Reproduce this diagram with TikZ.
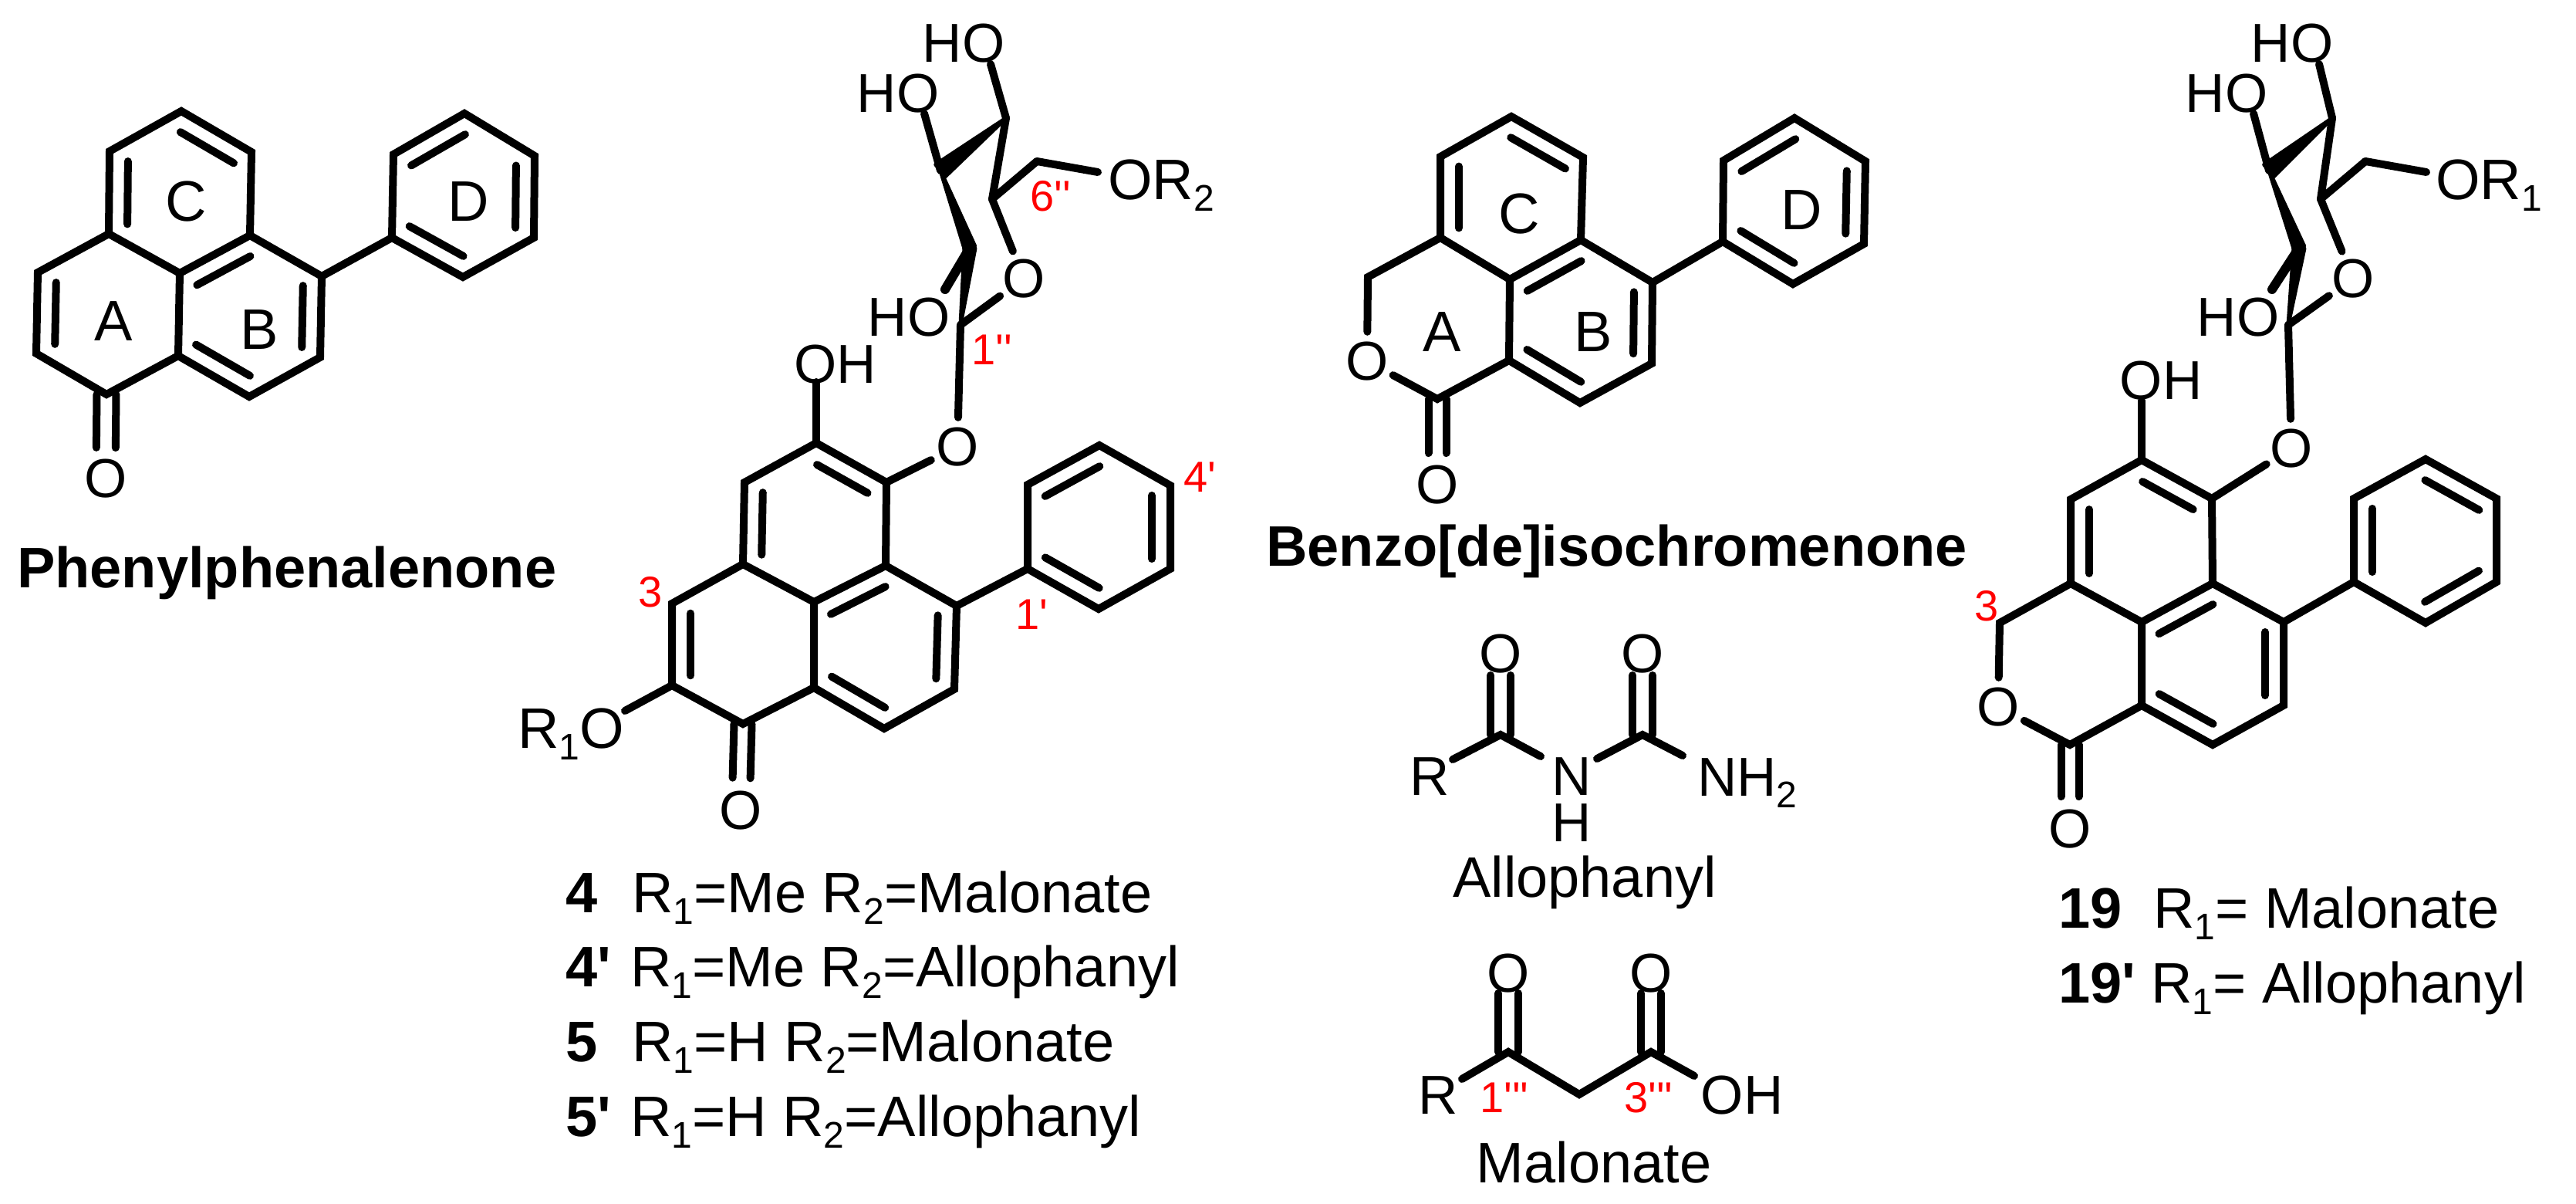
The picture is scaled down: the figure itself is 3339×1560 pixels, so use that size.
\documentclass[tikz,border=0pt]{standalone}
\usepackage{fontspec}
\usetikzlibrary{calc}
\newfontfamily\lib{Liberation Sans}
\definecolor{numred}{RGB}{255,0,0}
\newcommand\pnt[3]{\coordinate (#1) at (#2,#3);}
\newcommand\sbs[1]{\raisebox{-15pt}{\fontsize{48}{48}\selectfont #1}}
% inner line of a double bond, on the left of a->b as seen on the page
\newcommand\inn[2]{\draw[bond] ($(#1)!0.12!(#2)!24pt!90:(#2)$) -- ($(#2)!0.12!(#1)!24pt!-90:(#1)$);}
% exocyclic C=O: two parallel lines from carbon to oxygen node
\newcommand\dblO[4]{\draw[bond,shorten >=#4pt] ($(#1)!#3pt!90:(#2.center)$) -- ($(#2.center)!#3pt!-90:(#1)$);
  \draw[bond,shorten >=#4pt] ($(#1)!#3pt!-90:(#2.center)$) -- ($(#2.center)!#3pt!90:(#1)$);}
\newcommand\wdg[3]{\filldraw[line width=5pt,line join=round] ($(#2)!#3pt!90:(#1)$) -- (#1) -- ($(#2)!#3pt!-90:(#1)$) -- cycle;}
\tikzset{
  bond/.style={line width=10pt,line cap=round,line join=miter,miter limit=4},
  atom/.style={circle,inner sep=0pt,minimum size=76pt,font=\lib\fontsize{71}{71}\selectfont},
  lab/.style={inner sep=0pt,font=\lib\fontsize{71}{71}\selectfont},
  basew/.style={inner sep=0pt,anchor=base west,font=\lib\fontsize{74}{74}\selectfont},
  boldw/.style={inner sep=0pt,anchor=base west,font=\lib\bfseries\fontsize{74}{74}\selectfont},
  ring/.style={inner sep=0pt,font=\lib\fontsize{74}{74}\selectfont},
  num/.style={inner sep=0pt,text=numred,font=\lib\fontsize{56}{56}\selectfont},
}
\begin{document}
\begin{tikzpicture}[x=1pt,y=-1pt]
\useasboundingbox (0,0) rectangle (3339,1560);
% ---------- Phenylphenalenone ----------
\pnt{a1}{235}{144}\pnt{a2}{142}{196}\pnt{a3}{141}{303}\pnt{a4}{326}{197}\pnt{a5}{324}{305}\pnt{a6}{233}{354}
\pnt{a7}{49}{353}\pnt{a8}{47}{458}\pnt{a9}{138}{511}\pnt{a10}{231}{461}
\pnt{a11}{323}{514}\pnt{a12}{415}{463}\pnt{a13}{417}{358}
\pnt{a14}{508}{308}\pnt{a15}{510}{200}\pnt{a16}{602}{147}\pnt{a17}{693}{202}\pnt{a18}{692}{308}\pnt{a19}{600}{359}
\draw[bond] (a3) -- (a2) -- (a1) -- (a4) -- (a5) -- (a6) -- cycle;
\draw[bond] (a3) -- (a7) -- (a8) -- (a9) -- (a10) -- (a6);
\draw[bond] (a10) -- (a11) -- (a12) -- (a13) -- (a5);
\draw[bond] (a13) -- (a14);
\draw[bond] (a14) -- (a15) -- (a16) -- (a17) -- (a18) -- (a19) -- cycle;
\inn{a2}{a3}\inn{a4}{a1}\inn{a5}{a6}\inn{a12}{a13}\inn{a10}{a11}\inn{a7}{a8}
\inn{a18}{a17}\inn{a16}{a15}\inn{a14}{a19}
\node[atom] (aO) at (137,620) {O};
\dblO{a9}{aO}{12.5}{40}
\node[ring] (aA) at (147,416) {A};
\node[ring] (aB) at (336,427) {B};
\node[ring] (aC) at (241,261) {C};
\node[ring] (aD) at (607,261) {D};
\node[boldw] (aT) at (22,761) {Phenylphenalenone};
% ---------- Compound 4 ----------
\pnt{b1}{1058}{574}\pnt{b2}{1149}{625}\pnt{b3}{965}{625}\pnt{b4}{963}{731}\pnt{b5}{1055}{780}\pnt{b6}{1148}{733}
\pnt{b7}{1240}{785}\pnt{b8}{1237}{893}\pnt{b9}{1146}{944}\pnt{b10}{1055}{891}
\pnt{b11}{871}{782}\pnt{b12}{871}{888}\pnt{b13}{963}{938}
\pnt{b14}{1332}{737}\pnt{b15}{1332}{628}\pnt{b16}{1425}{577}\pnt{b17}{1517}{629}\pnt{b18}{1517}{737}\pnt{b19}{1424}{789}
\draw[bond] (b1) -- (b2) -- (b6) -- (b5) -- (b4) -- (b3) -- cycle;
\draw[bond] (b4) -- (b11) -- (b12) -- (b13) -- (b10) -- (b5);
\draw[bond] (b6) -- (b7) -- (b8) -- (b9) -- (b10);
\draw[bond] (b7) -- (b14);
\draw[bond] (b14) -- (b15) -- (b16) -- (b17) -- (b18) -- (b19) -- cycle;
\draw[bond] ($(b1)!0.14!(b2)!24pt!-90:(b2)$) -- ($(b2)!0.14!(b1)!24pt!90:(b1)$);
\inn{b3}{b4}\inn{b6}{b5}\inn{b8}{b7}\inn{b10}{b9}\inn{b11}{b12}
\inn{b16}{b15}\inn{b18}{b17}\inn{b14}{b19}
\node[atom] (bO1) at (960,1050) {O};
\dblO{b13}{bO1}{11.5}{42}
\node[basew] (bR1) at (671,969) {R\sbs{1}O};
\pnt{bO2e}{810}{921}
\draw[bond] (b12) -- (bO2e);
\node[lab] (bOH) at (1083,472) {OH};
\pnt{bOHe}{1058}{495}
\draw[bond] (b1) -- (bOHe);
\node[atom] (bO3) at (1241,579) {O};
\draw[bond] (b2) -- (bO3);
\pnt{s1}{1304}{153}\pnt{s2}{1219}{221}\pnt{s3}{1257}{321}\pnt{s4}{1245}{421}\pnt{s5}{1286}{258}\pnt{s6}{1344}{209}
\node[atom] (bO4) at (1327,361) {O};
\draw[bond] (bO3) -- (s4);
\draw[bond] (s4) -- (bO4);
\draw[bond] (bO4) -- (s5);
\draw[bond] (s5) -- (s1);
\draw[bond] (s5) -- (s6);
\pnt{s6e}{1423}{223}
\draw[bond] (s6) -- (s6e);
\wdg{s1}{s2}{10}\wdg{s2}{s3}{7}\wdg{s4}{s3}{7}
\node[basew] (bOR) at (1436,258) {OR\sbs{2}};
\node[lab] (bHO1) at (1249,56) {HO};
\node[lab] (bHO2) at (1164,121) {HO};
\node[lab] (bHO3) at (1178,411) {HO};
\pnt{e1}{1284}{83}\pnt{e2}{1198}{147}\pnt{e3}{1225}{375}
\draw[bond] (s1) -- (e1);
\draw[bond] (s2) -- (e2);
\draw[bond,line width=12pt] (s3) -- (e3);
\node[num] (n6) at (1362,254) {6''};
\node[num] (n1) at (1286,453) {1''};
\node[num] (n3) at (843,767) {3};
\node[num] (n1p) at (1337,796) {1'};
\node[num] (n4p) at (1555,618) {4'};
% legend of 4
\node[boldw] (l1) at (733,1182) {4};
\node[boldw] (l2) at (733,1278) {4'};
\node[boldw] (l3) at (733,1375) {5};
\node[boldw] (l4) at (733,1472) {5'};
\node[basew] (l1t) at (819,1182) {R\sbs{1}=Me R\sbs{2}=Malonate};
\node[basew] (l2t) at (817,1278) {R\sbs{1}=Me R\sbs{2}=Allophanyl};
\node[basew] (l3t) at (819,1375) {R\sbs{1}=H R\sbs{2}=Malonate};
\node[basew] (l4t) at (817,1472) {R\sbs{1}=H R\sbs{2}=Allophanyl};
% ---------- Benzo[de]isochromenone ----------
\pnt{c1}{1959}{151}\pnt{c2}{1867}{203}\pnt{c3}{1867}{308}\pnt{c4}{2052}{204}\pnt{c5}{2049}{311}\pnt{c6}{1957}{362}
\pnt{c7}{1773}{359}\pnt{c9}{1863}{517}\pnt{c10}{1956}{467}
\pnt{c11}{2048}{522}\pnt{c12}{2141}{471}\pnt{c13}{2142}{366}
\pnt{c14}{2233}{313}\pnt{c15}{2234}{208}\pnt{c16}{2326}{153}\pnt{c17}{2418}{209}\pnt{c18}{2416}{316}\pnt{c19}{2324}{368}
\node[atom] (cO1) at (1772,468) {O};
\draw[bond] (c3) -- (c2) -- (c1) -- (c4) -- (c5) -- (c6) -- cycle;
\draw[bond] (cO1) -- (c7) -- (c3);
\draw[bond] (cO1) -- (c9) -- (c10) -- (c6);
\draw[bond] (c10) -- (c11) -- (c12) -- (c13) -- (c5);
\draw[bond] (c13) -- (c14);
\draw[bond] (c14) -- (c15) -- (c16) -- (c17) -- (c18) -- (c19) -- cycle;
\inn{c2}{c3}\inn{c4}{c1}\inn{c5}{c6}\inn{c12}{c13}\inn{c10}{c11}
\inn{c18}{c17}\inn{c16}{c15}\inn{c14}{c19}
\node[atom] (cO2) at (1863,628) {O};
\dblO{c9}{cO2}{11.5}{41}
\node[ring] (cA) at (1869,430) {A};
\node[ring] (cB) at (2065,430) {B};
\node[ring] (cC) at (1969,277) {C};
\node[ring] (cD) at (2335,272) {D};
\node[boldw] (cT) at (1641,733) {Benzo[de]isochromenone};
% ---------- Allophanyl ----------
\pnt{f1}{1945}{952}\pnt{f2}{2129}{952}
\pnt{fR}{1883}{984}\pnt{fNa}{1997}{980}\pnt{fNb}{2070}{983}\pnt{fNc}{2181}{979}
\node[atom] (fO1) at (1945,847) {O};
\node[atom] (fO2) at (2129,847) {O};
\draw[bond] (fR) -- (f1) -- (fNa);
\draw[bond] (fNb) -- (f2) -- (fNc);
\dblO{f1}{fO1}{13}{28}
\dblO{f2}{fO2}{13}{28}
\node[lab] (fRl) at (1853,1006) {R};
\node[lab] (fN) at (2037,1006) {N};
\node[lab] (fH) at (2037,1066) {H};
\node[basew,font=\lib\fontsize{71}{71}\selectfont] (fNH) at (2200,1031) {NH\sbs{2}};
\node[ring] (fT) at (2054,1143) {Allophanyl};
% ---------- Malonate ----------
\pnt{g1}{1955}{1363}\pnt{g2}{2047}{1418}\pnt{g3}{2140}{1363}
\pnt{gRe}{1895}{1398}\pnt{gOe}{2196}{1394}
\node[atom] (gO1) at (1955,1261) {O};
\node[atom] (gO2) at (2140,1261) {O};
\draw[bond] (gRe) -- (g1) -- (g2) -- (g3) -- (gOe);
\dblO{g1}{gO1}{13}{26}
\dblO{g3}{gO2}{13}{26}
\node[lab] (gR) at (1864,1419) {R};
\node[lab] (gOH) at (2258,1419) {OH};
\node[num] (g1n) at (1950,1422) {1'''};
\node[num] (g3n) at (2137,1422) {3'''};
\node[ring] (gT) at (2066,1506) {Malonate};
% ---------- Compound 19 ----------
\pnt{d1}{2776}{596}\pnt{d2}{2867}{646}\pnt{d3}{2684}{647}\pnt{d4}{2684}{756}\pnt{d5}{2776}{806}\pnt{d6}{2868}{756}
\pnt{d7}{2960}{806}\pnt{d8}{2960}{914}\pnt{d9}{2868}{965}\pnt{d10}{2776}{914}
\pnt{d11}{2592}{807}\pnt{d13}{2683}{965}
\pnt{d14}{3051}{754}\pnt{d15}{3051}{646}\pnt{d16}{3144}{595}\pnt{d17}{3236}{646}\pnt{d18}{3236}{754}\pnt{d19}{3144}{807}
\node[atom] (dO1) at (2590,916) {O};
\draw[bond] (d1) -- (d2) -- (d6) -- (d5) -- (d4) -- (d3) -- cycle;
\draw[bond] (dO1) -- (d11) -- (d4);
\draw[bond] (dO1) -- (d13) -- (d10) -- (d5);
\draw[bond] (d6) -- (d7) -- (d8) -- (d9) -- (d10);
\draw[bond] (d7) -- (d14);
\draw[bond] (d14) -- (d15) -- (d16) -- (d17) -- (d18) -- (d19) -- cycle;
\draw[bond] ($(d1)!0.14!(d2)!24pt!-90:(d2)$) -- ($(d2)!0.14!(d1)!24pt!90:(d1)$);
\inn{d3}{d4}\inn{d6}{d5}\inn{d8}{d7}\inn{d10}{d9}
\inn{d17}{d16}\inn{d15}{d14}\inn{d19}{d18}
\node[atom] (dO2) at (2683,1074) {O};
\dblO{d13}{dO2}{11.5}{42}
\node[lab] (dOH) at (2801,493) {OH};
\pnt{dOHe}{2776}{519}
\draw[bond] (d1) -- (dOHe);
\node[atom] (dO3) at (2970,581) {O};
\draw[bond] (d2) -- (dO3);
\pnt{t1}{3023}{153}\pnt{t2}{2941}{221}\pnt{t3}{2980}{321}\pnt{t4}{2966}{421}\pnt{t5}{3008}{258}\pnt{t6}{3066}{209}
\node[atom] (dO4) at (3050,361) {O};
\draw[bond] (dO3) -- (t4);
\draw[bond] (t4) -- (dO4);
\draw[bond] (dO4) -- (t5);
\draw[bond] (t5) -- (t1);
\draw[bond] (t5) -- (t6);
\pnt{t6e}{3145}{223}
\draw[bond] (t6) -- (t6e);
\wdg{t1}{t2}{10}\wdg{t2}{t3}{7}\wdg{t4}{t3}{7}
\node[basew] (dOR) at (3157,258) {OR\sbs{1}};
\node[lab] (dHO1) at (2971,56) {HO};
\node[lab] (dHO2) at (2886,121) {HO};
\node[lab] (dHO3) at (2901,411) {HO};
\pnt{u1}{3006}{83}\pnt{u2}{2921}{147}\pnt{u3}{2945}{375}
\draw[bond] (t1) -- (u1);
\draw[bond] (t2) -- (u2);
\draw[bond,line width=12pt] (t3) -- (u3);
\node[num] (d3n) at (2575,785) {3};
\node[boldw] (m1) at (2668,1202) {19};
\node[boldw] (m2) at (2668,1299) {19'};
\node[basew] (m1t) at (2791,1202) {R\sbs{1}= Malonate};
\node[basew] (m2t) at (2788,1299) {R\sbs{1}= Allophanyl};
\end{tikzpicture}
\end{document}
